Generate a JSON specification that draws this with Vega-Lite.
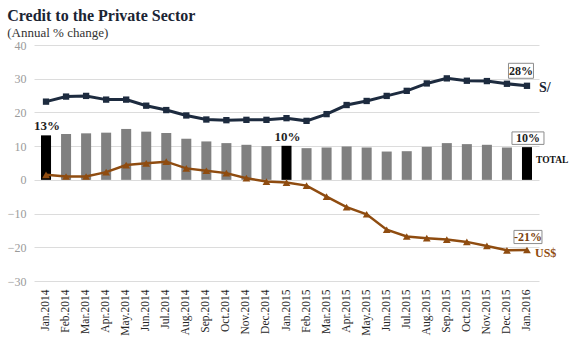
{
  "$schema": "https://vega.github.io/schema/vega-lite/v6.json",
  "width": 505,
  "height": 236,
  "padding": {"left": 7, "top": 8, "right": 5, "bottom": 5},
  "background": "white",
  "title": {
    "text": "Credit to the Private Sector",
    "subtitle": "(Annual % change)",
    "anchor": "start",
    "frame": "bounds",
    "font": "Liberation Serif",
    "fontSize": 16,
    "fontWeight": "bold",
    "color": "#1b2433",
    "subtitleFont": "Liberation Serif",
    "subtitleFontSize": 13,
    "subtitleColor": "#333333",
    "subtitlePadding": 3,
    "offset": -1
  },
  "config": {
    "view": {"stroke": null},
    "font": "Liberation Serif",
    "axisX": {
      "labelAngle": -90,
      "labelFont": "Liberation Serif",
      "labelFontSize": 11.5,
      "labelColor": "#262626",
      "labelPadding": 8,
      "ticks": false,
      "tickSize": 0,
      "domain": false,
      "grid": false,
      "title": null
    },
    "axisY": {
      "labelFont": "Liberation Serif",
      "labelFontSize": 12,
      "labelColor": "#9a9a9a",
      "labelPadding": 8,
      "ticks": false,
      "tickSize": 0,
      "domain": false,
      "grid": true,
      "gridColor": "#dcdcdc",
      "gridWidth": 1,
      "values": [-30, -20, -10, 0, 10, 20, 30, 40],
      "title": null
    }
  },
  "datasets": {
    "main": [
      {"month": "Jan.2014", "total": 13.2, "sol": 23.2, "usd": 1.5},
      {"month": "Feb.2014", "total": 13.6, "sol": 24.7, "usd": 1.0},
      {"month": "Mar.2014", "total": 13.8, "sol": 24.9, "usd": 1.0},
      {"month": "Apr.2014", "total": 14.0, "sol": 23.8, "usd": 2.3},
      {"month": "May.2014", "total": 15.1, "sol": 23.8, "usd": 4.4},
      {"month": "Jun.2014", "total": 14.3, "sol": 22.0, "usd": 4.9},
      {"month": "Jul.2014", "total": 13.9, "sol": 20.7, "usd": 5.4},
      {"month": "Aug.2014", "total": 12.2, "sol": 19.1, "usd": 3.4},
      {"month": "Sep.2014", "total": 11.4, "sol": 17.9, "usd": 2.7},
      {"month": "Oct.2014", "total": 10.9, "sol": 17.7, "usd": 2.0},
      {"month": "Nov.2014", "total": 10.4, "sol": 17.8, "usd": 0.5},
      {"month": "Dec.2014", "total": 10.0, "sol": 17.8, "usd": -0.5},
      {"month": "Jan.2015", "total": 10.1, "sol": 18.3, "usd": -0.8},
      {"month": "Feb.2015", "total": 9.4, "sol": 17.5, "usd": -1.7},
      {"month": "Mar.2015", "total": 9.6, "sol": 19.5, "usd": -5.0},
      {"month": "Apr.2015", "total": 9.9, "sol": 22.2, "usd": -8.1},
      {"month": "May.2015", "total": 9.6, "sol": 23.4, "usd": -10.2},
      {"month": "Jun.2015", "total": 8.4, "sol": 24.9, "usd": -14.8},
      {"month": "Jul.2015", "total": 8.5, "sol": 26.4, "usd": -16.8},
      {"month": "Aug.2015", "total": 9.8, "sol": 28.6, "usd": -17.3},
      {"month": "Sep.2015", "total": 10.9, "sol": 30.1, "usd": -17.7},
      {"month": "Oct.2015", "total": 10.6, "sol": 29.4, "usd": -18.4},
      {"month": "Nov.2015", "total": 10.4, "sol": 29.3, "usd": -19.6},
      {"month": "Dec.2015", "total": 9.6, "sol": 28.5, "usd": -20.9},
      {"month": "Jan.2016", "total": 9.7, "sol": 27.9, "usd": -20.8}
    ],
    "ann": [
      {"month": "Jan.2016", "value": 27.9, "label": "28%", "name": "S/", "series": "sol"},
      {"month": "Jan.2016", "value": 9.7, "label": "10%", "name": "TOTAL", "series": "total"},
      {"month": "Jan.2016", "value": -20.8, "label": "-21%", "name": "US$", "series": "usd"},
      {"month": "Jan.2014", "value": 13.2, "label": "13%", "name": "", "series": "start"},
      {"month": "Jan.2015", "value": 10.1, "label": "10%", "name": "", "series": "mid"}
    ]
  },
  "data": {"name": "main"},
  "encoding": {
    "x": {
      "field": "month",
      "type": "ordinal",
      "sort": null,
      "scale": {"paddingInner": 0.5, "paddingOuter": 0.35}
    }
  },
  "layer": [
    {
      "mark": {"type": "bar"},
      "encoding": {
        "y": {"field": "total", "type": "quantitative", "scale": {"domain": [-30, 40], "nice": false}},
        "color": {
          "condition": {"test": "slice(datum.month,0,3)==='Jan'", "value": "#000000"},
          "value": "#808080"
        }
      }
    },
    {
      "mark": {
        "type": "line",
        "color": "#1d2b3f",
        "strokeWidth": 3,
        "point": {"shape": "square", "size": 40, "filled": true, "color": "#1d2b3f"}
      },
      "encoding": {
        "y": {"field": "sol", "type": "quantitative", "scale": {"domain": [-30, 40], "nice": false}}
      }
    },
    {
      "mark": {
        "type": "line",
        "color": "#8f4c10",
        "strokeWidth": 2.5,
        "point": {"shape": "triangle-up", "size": 60, "filled": true, "color": "#8f4c10"}
      },
      "encoding": {
        "y": {"field": "usd", "type": "quantitative", "scale": {"domain": [-30, 40], "nice": false}}
      }
    },
    {
      "data": {"name": "ann"},
      "transform": [{"filter": "datum.series==='sol'"}],
      "mark": {
        "type": "point",
        "shape": "M-1,-0.6H1V0.6H-1Z",
        "size": 625,
        "filled": true,
        "fill": "white",
        "stroke": "#8c8c8c",
        "strokeWidth": 1,
        "opacity": 1,
        "xOffset": -6,
        "yOffset": -15
      },
      "encoding": {"y": {"field": "value", "type": "quantitative"}}
    },
    {
      "data": {"name": "ann"},
      "transform": [{"filter": "datum.series==='total'"}],
      "mark": {
        "type": "point",
        "shape": "M-1,-0.39H1V0.39H-1Z",
        "size": 1024,
        "filled": true,
        "fill": "white",
        "stroke": "#8c8c8c",
        "strokeWidth": 1,
        "opacity": 1,
        "xOffset": 1,
        "yOffset": -9
      },
      "encoding": {"y": {"field": "value", "type": "quantitative"}}
    },
    {
      "data": {"name": "ann"},
      "transform": [{"filter": "datum.series==='usd'"}],
      "mark": {
        "type": "point",
        "shape": "M-1,-0.47H1V0.47H-1Z",
        "size": 784,
        "filled": true,
        "fill": "white",
        "stroke": "#8c8c8c",
        "strokeWidth": 1,
        "opacity": 1,
        "xOffset": 1,
        "yOffset": -13
      },
      "encoding": {"y": {"field": "value", "type": "quantitative"}}
    },
    {
      "data": {"name": "ann"},
      "transform": [{"filter": "datum.series==='sol'"}],
      "mark": {"type": "text", "font": "Liberation Serif", "fontSize": 12, "fontWeight": "bold", "color": "#222222", "baseline": "middle", "dx": -6, "dy": -15},
      "encoding": {"y": {"field": "value", "type": "quantitative"}, "text": {"field": "label"}}
    },
    {
      "data": {"name": "ann"},
      "transform": [{"filter": "datum.series==='total'"}],
      "mark": {"type": "text", "font": "Liberation Serif", "fontSize": 12, "fontWeight": "bold", "color": "#222222", "baseline": "middle", "dx": 1, "dy": -9},
      "encoding": {"y": {"field": "value", "type": "quantitative"}, "text": {"field": "label"}}
    },
    {
      "data": {"name": "ann"},
      "transform": [{"filter": "datum.series==='usd'"}],
      "mark": {"type": "text", "font": "Liberation Serif", "fontSize": 12, "fontWeight": "bold", "color": "#7a3f0e", "baseline": "middle", "dx": 1, "dy": -13},
      "encoding": {"y": {"field": "value", "type": "quantitative"}, "text": {"field": "label"}}
    },
    {
      "data": {"name": "ann"},
      "transform": [{"filter": "datum.series==='sol'"}],
      "mark": {"type": "text", "font": "Liberation Serif", "fontSize": 14, "fontWeight": "bold", "color": "#1b2433", "baseline": "middle", "align": "left", "dx": 12, "dy": 2},
      "encoding": {"y": {"field": "value", "type": "quantitative"}, "text": {"field": "name"}}
    },
    {
      "data": {"name": "ann"},
      "transform": [{"filter": "datum.series==='total'"}],
      "mark": {"type": "text", "font": "Liberation Serif", "fontSize": 9.5, "fontWeight": "bold", "color": "#111111", "baseline": "middle", "align": "left", "dx": 9, "dy": 13},
      "encoding": {"y": {"field": "value", "type": "quantitative"}, "text": {"field": "name"}}
    },
    {
      "data": {"name": "ann"},
      "transform": [{"filter": "datum.series==='usd'"}],
      "mark": {"type": "text", "font": "Liberation Serif", "fontSize": 12, "fontWeight": "bold", "color": "#8f4c10", "baseline": "middle", "align": "left", "dx": 8, "dy": 3},
      "encoding": {"y": {"field": "value", "type": "quantitative"}, "text": {"field": "name"}}
    },
    {
      "data": {"name": "ann"},
      "transform": [{"filter": "datum.series==='start' || datum.series==='mid'"}],
      "mark": {"type": "text", "font": "Liberation Serif", "fontSize": 13, "fontWeight": "bold", "color": "#1f1f1f", "baseline": "alphabetic", "dx": 1, "dy": -5},
      "encoding": {"y": {"field": "value", "type": "quantitative"}, "text": {"field": "label"}}
    }
  ]
}
